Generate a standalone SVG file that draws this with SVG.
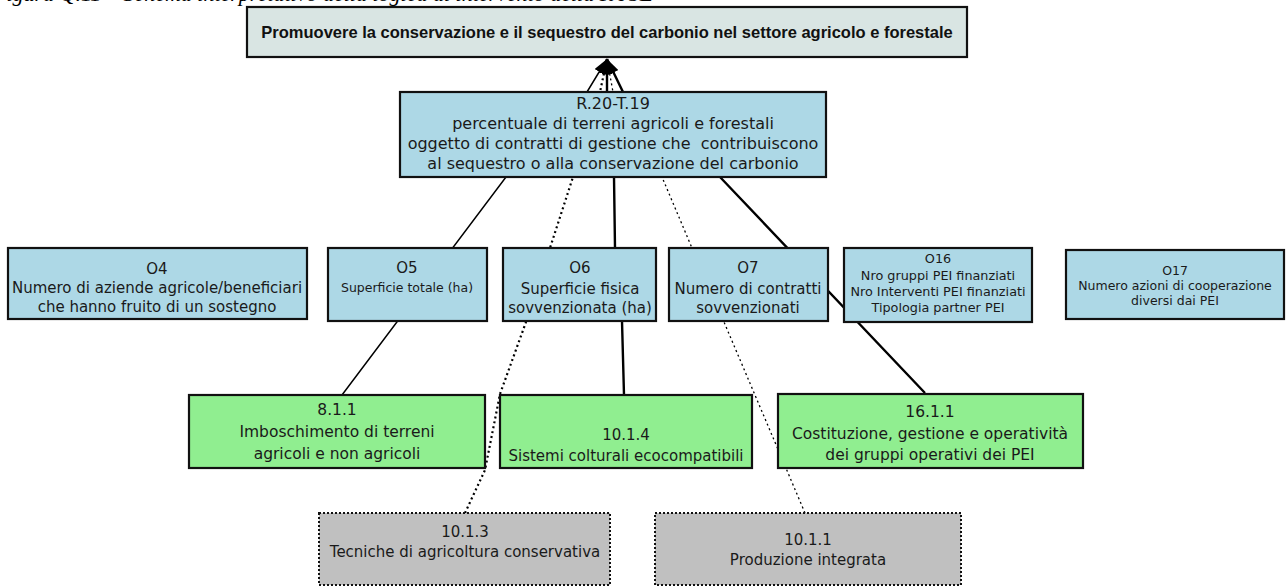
<svg xmlns="http://www.w3.org/2000/svg" width="1288" height="587" viewBox="0 0 1288 587">
  <defs>
    <marker id="arrow" viewBox="0 0 14 10" refX="14" refY="5" markerWidth="15" markerHeight="11" markerUnits="userSpaceOnUse" orient="auto">
      <path d="M0,0 L14,5 L0,10 z" fill="#000"/>
    </marker>
    <style>
      .caption { font-family: "Liberation Serif", serif; font-style: italic; font-size: 22px; fill: #000; }
      .goal rect { fill: #d9e5e3; stroke: #111; stroke-width: 2.2; }
      .goal text { font-family: "Liberation Sans", Arial, sans-serif; font-weight: bold; font-size: 16.5px; fill: #111; }
      .ind rect { fill: #add8e6; stroke: #111; stroke-width: 2.2; }
      .meas rect { fill: #90ee90; stroke: #111; stroke-width: 2.2; }
      .opt rect { fill: #c0c0c0; stroke: #111; stroke-width: 2; stroke-dasharray: 2 2; }
      text { font-family: "DejaVu Sans", "Liberation Sans", sans-serif; font-size: 15px; fill: #1a1a1a; text-anchor: middle; }
      .sm { font-size: 12.5px; }
      .xs { font-size: 12.8px; }
      .r { font-size: 16px; white-space: pre; }
      .g { font-size: 15.5px; }
      .solid { fill: none; stroke: #000; stroke-width: 2.4; marker-end: url(#arrow); }
      .thin { fill: none; stroke: #000; stroke-width: 1.5; marker-end: url(#arrow); }
      .dot { fill: none; stroke: #000; stroke-width: 2.2; stroke-dasharray: 2 3; marker-end: url(#arrow); }
      .dotthin { fill: none; stroke: #000; stroke-width: 1.3; stroke-dasharray: 2 3; marker-end: url(#arrow); }
    </style>
  </defs>

  <rect x="0" y="0" width="1288" height="587" fill="#fff"/>

  <!-- caption line, cut by the top edge -->
  <text class="caption" x="-7" y="1" style="text-anchor:start">Figura Q.11 – Schema interpretativo della logica di intervento della FA 5E</text>

  <!-- connectors: every measure links up to the goal, passing behind the boxes -->
  <g id="connectors">
    <polyline class="thin" points="342,395 506,177 587,92 607,59"/>
    <polyline class="dot" points="465,513 485,470 500,394 526,322 550,248 573,177 600,92 607,59"/>
    <polyline class="solid" points="624,395 622,321 615,248 614,177 607,92 607,59"/>
    <polyline class="dotthin" points="805,513 724,322 692,248 662,177 613,92 607,59"/>
    <polyline class="solid" points="925,393 720,177 623,92 607,59"/>
  </g>

  <!-- goal -->
  <g id="goal" class="goal">
    <rect x="247" y="7" width="720" height="50"/>
    <text x="607" y="38" style="text-anchor:middle">Promuovere la conservazione e il sequestro del carbonio nel settore agricolo e forestale</text>
  </g>

  <!-- result indicator -->
  <g id="r20" class="ind">
    <rect x="400" y="92" width="426" height="85"/>
    <text class="r" x="613" y="109">R.20-T.19</text>
    <text class="r" x="613" y="129">percentuale di terreni agricoli e forestali</text>
    <text class="r" x="613" y="149">oggetto di contratti di gestione che  contribuiscono</text>
    <text class="r" x="613" y="169">al sequestro o alla conservazione del carbonio</text>
  </g>

  <!-- output indicators -->
  <g id="o4" class="ind">
    <rect x="8" y="248" width="299" height="71"/>
    <text x="157" y="274">O4</text>
    <text x="157" y="293">Numero di aziende agricole/beneficiari</text>
    <text x="157" y="312">che hanno fruito di un sostegno</text>
  </g>
  <g id="o5" class="ind">
    <rect x="328" y="248" width="159" height="73"/>
    <text x="407" y="273">O5</text>
    <text class="sm" x="407" y="292">Superficie totale (ha)</text>
  </g>
  <g id="o6" class="ind">
    <rect x="503" y="248" width="153" height="73"/>
    <text x="580" y="273">O6</text>
    <text x="580" y="294">Superficie fisica</text>
    <text x="580" y="313">sovvenzionata (ha)</text>
  </g>
  <g id="o7" class="ind">
    <rect x="669" y="248" width="159" height="73"/>
    <text x="748" y="273">O7</text>
    <text x="748" y="294">Numero di contratti</text>
    <text x="748" y="313">sovvenzionati</text>
  </g>
  <g id="o16" class="ind">
    <rect x="844" y="248" width="188" height="74"/>
    <text class="xs" x="938" y="263">O16</text>
    <text class="xs" x="938" y="280">Nro gruppi PEI finanziati</text>
    <text class="xs" x="938" y="296">Nro Interventi PEI finanziati</text>
    <text class="xs" x="938" y="312">Tipologia partner PEI</text>
  </g>
  <g id="o17" class="ind">
    <rect x="1066" y="250" width="218" height="69"/>
    <text class="sm" x="1175" y="275">O17</text>
    <text class="sm" x="1175" y="290">Numero azioni di cooperazione</text>
    <text class="sm" x="1175" y="305">diversi dai PEI</text>
  </g>

  <!-- measures -->
  <g id="m811" class="meas">
    <rect x="189" y="395" width="296" height="73"/>
    <text class="g" x="337" y="415">8.1.1</text>
    <text class="g" x="337" y="437">Imboschimento di terreni</text>
    <text class="g" x="337" y="459">agricoli e non agricoli</text>
  </g>
  <g id="m1014" class="meas">
    <rect x="500" y="395" width="252" height="73"/>
    <text x="626" y="440">10.1.4</text>
    <text x="626" y="461">Sistemi colturali ecocompatibili</text>
  </g>
  <g id="m1611" class="meas">
    <rect x="778" y="394" width="305" height="74"/>
    <text class="g" x="930" y="417">16.1.1</text>
    <text class="g" x="930" y="439">Costituzione, gestione e operatività</text>
    <text class="g" x="930" y="460">dei gruppi operativi dei PEI</text>
  </g>

  <!-- measures with an indirect contribution -->
  <g id="m1013" class="opt">
    <rect x="319" y="513" width="291" height="72"/>
    <text x="465" y="537">10.1.3</text>
    <text x="465" y="557">Tecniche di agricoltura conservativa</text>
  </g>
  <g id="m1011" class="opt">
    <rect x="655" y="513" width="306" height="72"/>
    <text x="808" y="545">10.1.1</text>
    <text x="808" y="565">Produzione integrata</text>
  </g>
</svg>
